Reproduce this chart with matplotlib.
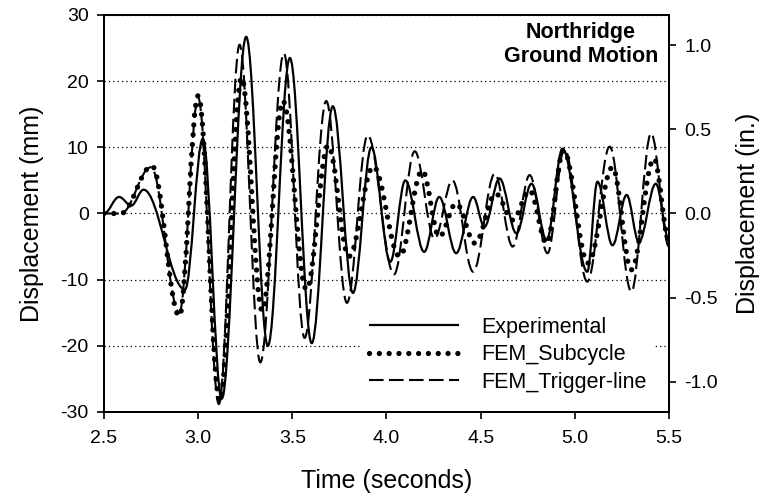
import matplotlib
matplotlib.use("Agg")
import matplotlib.pyplot as plt
from matplotlib.path import Path
from matplotlib.patches import PathPatch
from matplotlib.lines import Line2D

plt.rcParams["font.family"] = ["Liberation Sans", "DejaVu Sans"]
plt.rcParams["axes.unicode_minus"] = False

# peaks / troughs: time (s), displacement (mm)
exp_t = [2.50, 2.58, 2.645, 2.71, 2.93, 3.025, 3.125, 3.255, 3.37, 3.487, 3.603,
         3.715, 3.822, 3.92, 4.02, 4.10, 4.20, 4.28, 4.37, 4.46, 4.52, 4.60, 4.69,
         4.77, 4.85, 4.935, 5.066, 5.12, 5.20, 5.275, 5.34, 5.43, 5.50]
exp_v = [0.0, 2.5, 1.2, 3.6, -11.5, 11.3, -28.0, 26.7, -20.0, 23.5, -19.6,
         16.2, -12.0, 10.0, -7.3, 5.0, -5.8, 2.5, -6.0, 2.5, -2.0, 5.3, -3.0,
         4.5, -4.0, 9.8, -8.8, 4.8, -4.8, 2.8, -4.3, 4.5, -4.0]

sub_t = [2.50, 2.59, 2.755, 2.90, 3.00, 3.115, 3.23, 3.34, 3.45, 3.575, 3.69,
         3.80, 3.93, 4.07, 4.19, 4.28, 4.37, 4.47, 4.58, 4.67, 4.76, 4.85, 4.94,
         5.07, 5.20, 5.30, 5.42, 5.50]
sub_v = [0.0, 0.0, 7.2, -15.5, 17.8, -28.3, 20.5, -14.7, 17.0, -11.5, 10.3,
         -6.5, 7.1, -6.5, 6.5, -3.5, 1.5, -4.5, 3.0, -1.0, 3.5, -4.5, 9.5,
         -7.5, 7.0, -8.5, 8.3, -4.0]

trg_t = [2.50, 2.59, 2.75, 2.90, 3.00, 3.11, 3.22, 3.33, 3.455, 3.565, 3.68,
         3.79, 3.90, 4.04, 4.15, 4.255, 4.35, 4.46, 4.575, 4.67, 4.76, 4.855,
         4.945, 5.066, 5.185, 5.30, 5.405, 5.50]
trg_v = [0.0, 0.0, 7.0, -15.0, 17.5, -28.8, 25.5, -22.5, 24.2, -18.8, 17.0,
         -13.5, 11.8, -9.2, 9.4, -3.8, 5.0, -8.8, 6.0, -5.0, 5.8, -6.0,
         9.8, -10.3, 10.1, -11.8, 12.1, -5.0]

y_ticks = [-30, -20, -10, 0, 10, 20, 30]
x_ticks = [2.5, 3.0, 3.5, 4.0, 4.5, 5.0, 5.5]
in_ticks = [-1.0, -0.5, 0.0, 0.5, 1.0]
MM_PER_IN = 25.4


def smooth_path(ts, vs, k=0.364):
    # bezier through the extrema, flat tangent at each peak
    verts = [(ts[0], vs[0])]
    codes = [Path.MOVETO]
    for (t0, v0), (t1, v1) in zip(zip(ts, vs), zip(ts[1:], vs[1:])):
        dt = t1 - t0
        verts += [(t0 + k * dt, v0), (t1 - k * dt, v1), (t1, v1)]
        codes += [Path.CURVE4] * 3
    return Path(verts, codes)


fig = plt.figure(figsize=(7.68, 4.98), dpi=100)
ax = fig.add_axes([0.1354, 0.1727, 0.7357, 0.7972])

solid = dict(color="black", lw=1.6, linestyle="-")
dots = dict(color="black", lw=3.8, linestyle=(0, (0.01, 1.85)))
dash = dict(color="black", lw=1.5, linestyle=(0, (7, 2.6)))

ax.add_patch(PathPatch(smooth_path(sub_t, sub_v), fill=False, capstyle="round",
                       zorder=3, **dots))
ax.add_patch(PathPatch(smooth_path(trg_t, trg_v), fill=False, capstyle="butt",
                       zorder=4, **dash))
ax.add_patch(PathPatch(smooth_path(exp_t, exp_v), fill=False, zorder=5, **solid))

ax.set_xlim(2.5, 5.5)
ax.set_ylim(-30, 30)
ax.set_xticks(x_ticks)
ax.set_xticklabels([f"{x:.1f}" for x in x_ticks])
ax.set_yticks(y_ticks)
ax.yaxis.grid(True, color="black", linestyle=(0, (1, 2.5)), lw=0.9)
ax.set_axisbelow(True)
ax.tick_params(direction="out", length=5, width=1.2, labelsize=14, pad=6)
ax.tick_params(axis="x", pad=8)
for s in ax.spines.values():
    s.set_linewidth(1.4)

ax.set_xlabel("Time (seconds)", fontsize=18, labelpad=16)
ax.set_ylabel("Displacement (mm)", fontsize=18, labelpad=12)

ax2 = ax.twinx()
ax2.set_ylim(-30 / MM_PER_IN, 30 / MM_PER_IN)
ax2.set_yticks(in_ticks)
ax2.set_yticklabels([f"{v:.1f}" for v in in_ticks])
ax2.tick_params(direction="out", length=5, width=1.2, labelsize=14, pad=6)
ax2.set_ylabel("Displacement (in.)", fontsize=18, labelpad=13)
for s in ax2.spines.values():
    s.set_linewidth(1.4)

ax.text(0.844, 0.982, "Northridge\nGround Motion", transform=ax.transAxes,
        ha="center", va="top", fontsize=15.5, fontweight="bold", linespacing=1.15,
        zorder=6)

handles = [Line2D([], [], solid_capstyle="butt", **solid),
           Line2D([], [], dash_capstyle="round", **dots),
           Line2D([], [], **dash)]
labels = ["Experimental", "FEM_Subcycle", "FEM_Trigger-line"]
leg = ax.legend(handles, labels, loc="lower right", bbox_to_anchor=(0.99, 0.005),
                fontsize=15.5, handlelength=4.2, handletextpad=1.0, labelspacing=0.3,
                frameon=True, facecolor="white", edgecolor="none", framealpha=1,
                borderpad=0.3)
leg.set_zorder(2.5)

fig.savefig("out.png", dpi=100)
